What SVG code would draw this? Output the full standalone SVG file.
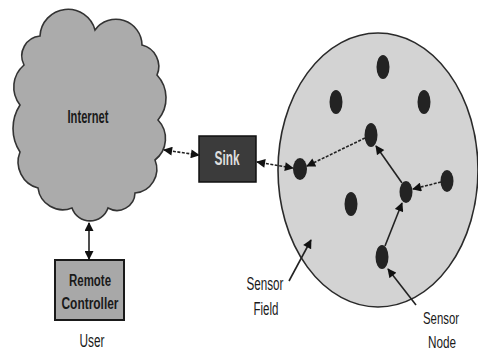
<svg xmlns="http://www.w3.org/2000/svg" width="478" height="351" viewBox="0 0 478 351">
<defs>
<marker id="ah" viewBox="0 0 10 10" refX="9" refY="5" markerWidth="10" markerHeight="9" markerUnits="userSpaceOnUse" orient="auto-start-reverse">
<path d="M0,0 L10,5 L0,10 Z" fill="#111"/>
</marker>
</defs>
<style>
.t{font-family:"Liberation Sans",Arial,sans-serif;fill:#1a1a1a;text-anchor:middle}
.b{font-weight:bold}
.node{fill:#232323}
.c{stroke:#222;stroke-width:1.6;fill:none}
.d{stroke-dasharray:3 1.5}
</style>
<rect width="478" height="351" fill="#fff"/>
<g id="sensor-field">
<ellipse cx="378" cy="170" rx="100" ry="137" fill="#d3d3d3" stroke="#2a2a2a" stroke-width="1.6"/>
</g>
<g id="internet">
<path d="M40,36 A28,28 0 0 1 95,30 A26,26 0 0 1 142,45 A22,22 0 0 1 157,75 A34,34 0 0 1 158,120 A27,27 0 0 1 155,160 A24,24 0 0 1 135,193 A18,18 0 0 1 108,208 A19,19 0 0 1 72,208 A25,25 0 0 1 38,188 A27,27 0 0 1 20,152 A43,43 0 0 1 20,105 A29,29 0 0 1 24,65 A20,20 0 0 1 40,36 Z" fill="#ababab" stroke="#333" stroke-width="1.6"/>
<text class="t b" x="88" y="123" font-size="19" textLength="41" lengthAdjust="spacingAndGlyphs">Internet</text>
</g>
<g id="sink">
<rect x="199" y="136" width="57" height="46" fill="#3b3b3b" stroke="#111" stroke-width="1.5"/>
<text class="t b" x="227" y="165" font-size="20" textLength="25" lengthAdjust="spacingAndGlyphs" style="fill:#dedede">Sink</text>
</g>
<g id="remote-controller">
<rect x="55" y="260" width="69" height="60" fill="#a8a8a8" stroke="#1a1a1a" stroke-width="2"/>
<text class="t b" x="90" y="286" font-size="16" textLength="42" lengthAdjust="spacingAndGlyphs">Remote</text>
<text class="t b" x="90" y="309" font-size="16" textLength="57" lengthAdjust="spacingAndGlyphs">Controller</text>
</g>
<g id="user-label">
<text class="t" x="92" y="347" font-size="18" textLength="25" lengthAdjust="spacingAndGlyphs">User</text>
</g>
<g id="nodes">
<ellipse id="n1" class="node" cx="300" cy="169" rx="7" ry="11"/>
<ellipse id="n2" class="node" cx="383" cy="67" rx="6.5" ry="12"/>
<ellipse id="n3" class="node" cx="336" cy="102" rx="6.5" ry="12"/>
<ellipse id="n4" class="node" cx="424" cy="102" rx="6.5" ry="12"/>
<ellipse id="n5" class="node" cx="371" cy="135" rx="6.5" ry="12"/>
<ellipse id="n6" class="node" cx="447" cy="181" rx="6.5" ry="11"/>
<ellipse id="n7" class="node" cx="406" cy="192" rx="6.5" ry="11"/>
<ellipse id="n8" class="node" cx="351" cy="204" rx="6.5" ry="12"/>
<ellipse id="n9" class="node" cx="382" cy="257" rx="6.5" ry="12"/>
</g>
<g id="labels">
<text class="t" x="265" y="290" font-size="18" textLength="37" lengthAdjust="spacingAndGlyphs">Sensor</text>
<text class="t" x="266" y="315" font-size="18" textLength="25" lengthAdjust="spacingAndGlyphs">Field</text>
<text class="t" x="441" y="324" font-size="17" textLength="36" lengthAdjust="spacingAndGlyphs">Sensor</text>
<text class="t" x="442" y="348" font-size="17" textLength="28" lengthAdjust="spacingAndGlyphs">Node</text>
</g>
<g id="connectors">
<line class="c d" x1="164" y1="150" x2="199" y2="155" marker-start="url(#ah)" marker-end="url(#ah)"/>
<line class="c d" x1="257" y1="162" x2="293" y2="168" marker-start="url(#ah)" marker-end="url(#ah)"/>
<line class="c" x1="89" y1="223" x2="89" y2="259" marker-start="url(#ah)" marker-end="url(#ah)"/>
<line class="c d" x1="365" y1="138" x2="307" y2="166" marker-end="url(#ah)"/>
<line class="c" x1="402" y1="183" x2="376" y2="146" marker-end="url(#ah)"/>
<line class="c d" x1="441" y1="182" x2="413" y2="189" marker-end="url(#ah)"/>
<line class="c" x1="385" y1="246" x2="402" y2="203" marker-end="url(#ah)"/>
<line class="c" x1="289" y1="281" x2="311" y2="240" marker-end="url(#ah)"/>
<line class="c" x1="416" y1="305" x2="388" y2="269" marker-end="url(#ah)"/>
</g>
</svg>
